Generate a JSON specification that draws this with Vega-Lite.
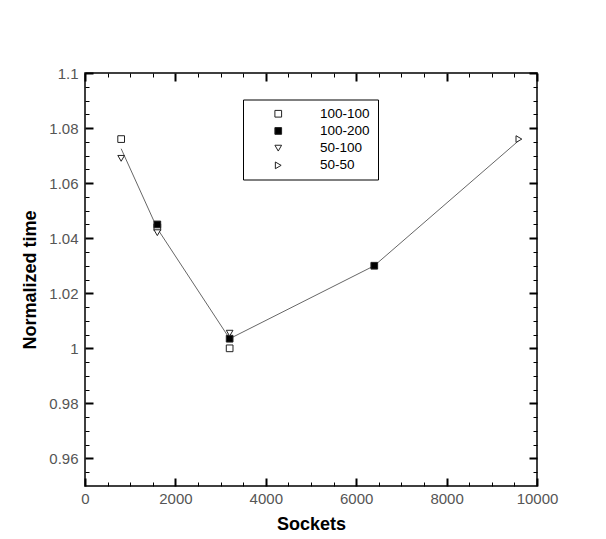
{
  "$schema": "https://vega.github.io/schema/vega-lite/v6.json",
  "width": 452,
  "height": 413,
  "autosize": {"type": "none"},
  "padding": {"left": 85, "top": 73, "right": 69, "bottom": 53},
  "background": "white",
  "config": {
    "view": {"stroke": "black", "strokeWidth": 1.5},
    "axis": {
      "domain": false,
      "grid": false,
      "tickColor": "black",
      "labelFont": "Liberation Sans",
      "labelFontSize": 15,
      "labelColor": "#555",
      "titleFont": "Liberation Sans",
      "titleFontSize": 18,
      "titleFontWeight": "bold",
      "titleColor": "black"
    },
    "legend": {
      "titleOrient": "left",
      "titleFont": "Liberation Sans",
      "titleFontSize": 14,
      "titlePadding": 21,
      "orient": "none",
      "legendX": 158,
      "legendY": 26.5,
      "strokeColor": "black",
      "padding": 7.5,
      "labelOffset": 35,
      "labelFont": "Liberation Sans",
      "labelFontSize": 13.5,
      "labelColor": "black",
      "symbolStrokeColor": "#222",
      "symbolStrokeWidth": 1,
      "symbolSize": 45,
      "rowPadding": 2.2
    }
  },
  "datasets": {
    "fit": [
      {"sockets": 800, "time": 1.0725},
      {"sockets": 1600, "time": 1.0435},
      {"sockets": 3200, "time": 1.0035},
      {"sockets": 6400, "time": 1.03},
      {"sockets": 9600, "time": 1.0755}
    ],
    "obs": [
      {"sockets": 800, "time": 1.076, "series": "100-100"},
      {"sockets": 1600, "time": 1.044, "series": "100-100"},
      {"sockets": 3200, "time": 1.0, "series": "100-100"},
      {"sockets": 1600, "time": 1.045, "series": "100-200"},
      {"sockets": 3200, "time": 1.0035, "series": "100-200"},
      {"sockets": 6400, "time": 1.03, "series": "100-200"},
      {"sockets": 800, "time": 1.069, "series": "50-100"},
      {"sockets": 1600, "time": 1.042, "series": "50-100"},
      {"sockets": 3200, "time": 1.0055, "series": "50-100"},
      {"sockets": 9600, "time": 1.076, "series": "50-50"}
    ]
  },
  "layer": [
    {
      "data": {"name": "fit"},
      "mark": {"type": "line", "color": "#555", "strokeWidth": 0.9},
      "encoding": {
        "x": {"field": "sockets", "type": "quantitative",
          "scale": {"domain": [0, 10000], "nice": false, "zero": false},
          "axis": {"orient": "bottom", "values": [0, 2000, 4000, 6000, 8000, 10000], "format": "d", "tickSize": -8, "tickWidth": 2, "labelPadding": 13, "labelFlush": false, "title": "Sockets", "titlePadding": 9}},
        "y": {"field": "time", "type": "quantitative",
          "scale": {"domain": [0.95, 1.1], "nice": false, "zero": false},
          "axis": {"orient": "left", "values": [0.96, 0.98, 1.0, 1.02, 1.04, 1.06, 1.08, 1.1], "format": ".3~g", "tickSize": -8, "tickWidth": 2, "labelPadding": 15, "labelFlush": false, "title": "Normalized time", "titlePadding": 9}}
      }
    },
    {
      "data": {"name": "obs"},
      "mark": {"type": "point", "strokeWidth": 1, "opacity": 1, "size": 45},
      "encoding": {
        "x": {"field": "sockets", "type": "quantitative",
          "axis": {"orient": "bottom", "values": [500, 1000, 1500, 2500, 3000, 3500, 4500, 5000, 5500, 6500, 7000, 7500, 8500, 9000, 9500], "tickSize": -4, "tickWidth": 1, "labels": false, "title": null}},
        "y": {"field": "time", "type": "quantitative",
          "axis": {"orient": "left", "values": [0.955, 0.965, 0.97, 0.975, 0.985, 0.99, 0.995, 1.005, 1.01, 1.015, 1.025, 1.03, 1.035, 1.045, 1.05, 1.055, 1.065, 1.07, 1.075, 1.085, 1.09, 1.095], "tickSize": -4, "tickWidth": 1, "labels": false, "title": null}},
        "shape": {"field": "series", "type": "nominal",
          "scale": {"domain": ["100-100", "100-200", "50-100", "50-50"], "range": ["square", "square", "triangle-down", "triangle-right"]},
          "legend": {"title": "\u00a0"}},
        "fill": {"field": "series", "type": "nominal",
          "scale": {"domain": ["100-100", "100-200", "50-100", "50-50"], "range": ["white", "black", "white", "white"]},
          "legend": {"title": "\u00a0"}},
        "stroke": {"field": "series", "type": "nominal",
          "scale": {"domain": ["100-100", "100-200", "50-100", "50-50"], "range": ["#222", "#222", "#222", "#222"]},
          "legend": {"title": "\u00a0"}}
      }
    },
    {
      "data": {"name": "fit"},
      "mark": {"type": "line", "opacity": 0},
      "encoding": {
        "x": {"field": "sockets", "type": "quantitative",
          "axis": {"orient": "top", "values": [0, 2000, 4000, 6000, 8000, 10000], "tickSize": -8, "tickWidth": 2, "labels": false, "title": null}},
        "y": {"field": "time", "type": "quantitative",
          "axis": {"orient": "right", "values": [0.96, 0.98, 1.0, 1.02, 1.04, 1.06, 1.08, 1.1], "tickSize": -8, "tickWidth": 2, "labels": false, "title": null}}
      }
    },
    {
      "data": {"name": "fit"},
      "mark": {"type": "line", "opacity": 0},
      "encoding": {
        "x": {"field": "sockets", "type": "quantitative",
          "axis": {"orient": "top", "values": [500, 1000, 1500, 2500, 3000, 3500, 4500, 5000, 5500, 6500, 7000, 7500, 8500, 9000, 9500], "tickSize": -4, "tickWidth": 1, "labels": false, "title": null}},
        "y": {"field": "time", "type": "quantitative",
          "axis": {"orient": "right", "values": [0.955, 0.965, 0.97, 0.975, 0.985, 0.99, 0.995, 1.005, 1.01, 1.015, 1.025, 1.03, 1.035, 1.045, 1.05, 1.055, 1.065, 1.07, 1.075, 1.085, 1.09, 1.095], "tickSize": -4, "tickWidth": 1, "labels": false, "title": null}}
      }
    }
  ],
  "resolve": {"axis": {"x": "independent", "y": "independent"}}
}
